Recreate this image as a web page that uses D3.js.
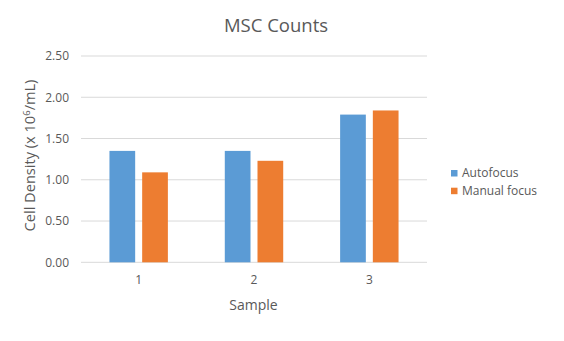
<!DOCTYPE html>
<html>
<head>
<meta charset="utf-8">
<script src="https://cdn.jsdelivr.net/npm/d3@7"></script>
<style>
  html, body { margin: 0; padding: 0; background: #fff; }
  svg { display: block; font-family: "Open Sans", "Noto Sans", sans-serif; }
</style>
</head>
<body>
<svg id="chart" width="564" height="341"></svg>
<script>
const categories = ["1", "2", "3"];
const seriesNames = ["Autofocus", "Manual focus"];
const autofocus = [1.35, 1.35, 1.79];
const manualFocus = [1.09, 1.23, 1.84];
const yTicks = [0, 0.5, 1.0, 1.5, 2.0, 2.5];
const colors = ["#5B9BD5", "#ED7D31"];

(function () {
const values = [autofocus, manualFocus];
const svg = d3.select("#chart");
const mLeft = 81, mRight = 427, mTop = 56, mBottom = 262.3;

const x0 = d3.scaleBand().domain(categories).range([mLeft, mRight]).padding(0);
const x1 = d3.scaleBand().domain(seriesNames).range([0, x0.bandwidth()])
  .paddingInner(0.214).paddingOuter(0.87);
const y = d3.scaleLinear().domain([0, 2.5]).range([mBottom, mTop]);

// gridlines
svg.append("g").selectAll("line").data(yTicks).join("line")
  .attr("x1", mLeft).attr("x2", mRight)
  .attr("y1", d => y(d)).attr("y2", d => y(d))
  .attr("stroke", "#D9D9D9").attr("stroke-width", 1);

// y axis labels
const yAxis = d3.axisLeft(y).tickValues(yTicks).tickFormat(d3.format(".2f")).tickSize(0).tickPadding(12);
const gy = svg.append("g").attr("transform", `translate(${mLeft},0)`).call(yAxis);
gy.select(".domain").remove();
gy.selectAll("text").attr("fill", "#595959").style("font-size", "12px")
  .style("font-family", '"Open Sans", sans-serif');

// bars
const groups = svg.append("g").selectAll("g").data(categories).join("g")
  .attr("transform", d => `translate(${x0(d)},0)`);
groups.selectAll("rect").data((d, i) => seriesNames.map((s, j) => ({s, j, v: values[j][i]})))
  .join("rect")
  .attr("x", d => x1(d.s))
  .attr("width", x1.bandwidth())
  .attr("y", d => y(d.v))
  .attr("height", d => y(0) - y(d.v))
  .attr("fill", d => colors[d.j]);

// x axis labels
const xAxis = d3.axisBottom(x0).tickSize(0).tickPadding(13);
const gx = svg.append("g").attr("transform", `translate(0,${mBottom})`).call(xAxis);
gx.select(".domain").remove();
gx.selectAll("text").attr("fill", "#595959").style("font-size", "12px")
  .style("font-family", '"Open Sans", sans-serif');

// title
svg.append("text").attr("x", 276).attr("y", 32).attr("text-anchor", "middle")
  .attr("fill", "#595959").style("font-size", "18.5px").text("MSC Counts");

// x title
svg.append("text").attr("x", 253.5).attr("y", 310).attr("text-anchor", "middle")
  .attr("fill", "#595959").style("font-size", "14px").text("Sample");

// y title
const yt = svg.append("text").attr("transform", "translate(34.5,155.5) rotate(-90)")
  .attr("text-anchor", "middle").attr("fill", "#595959").style("font-size", "14.6px");
yt.append("tspan").text("Cell Density (x 10");
yt.append("tspan").attr("dy", -5).style("font-size", "9.5px").text("6");
yt.append("tspan").attr("dy", 5).text("/mL)");

// legend
const lg = svg.append("g").selectAll("g").data(seriesNames).join("g")
  .attr("transform", (d, i) => `translate(451,${170 + i * 17.7})`);
lg.append("rect").attr("width", 6.5).attr("height", 6.5).attr("fill", (d, i) => colors[i]);
lg.append("text").attr("x", 11).attr("y", 7).attr("fill", "#595959")
  .style("font-size", "12px").text(d => d);
})();
</script>
</body>
</html>
